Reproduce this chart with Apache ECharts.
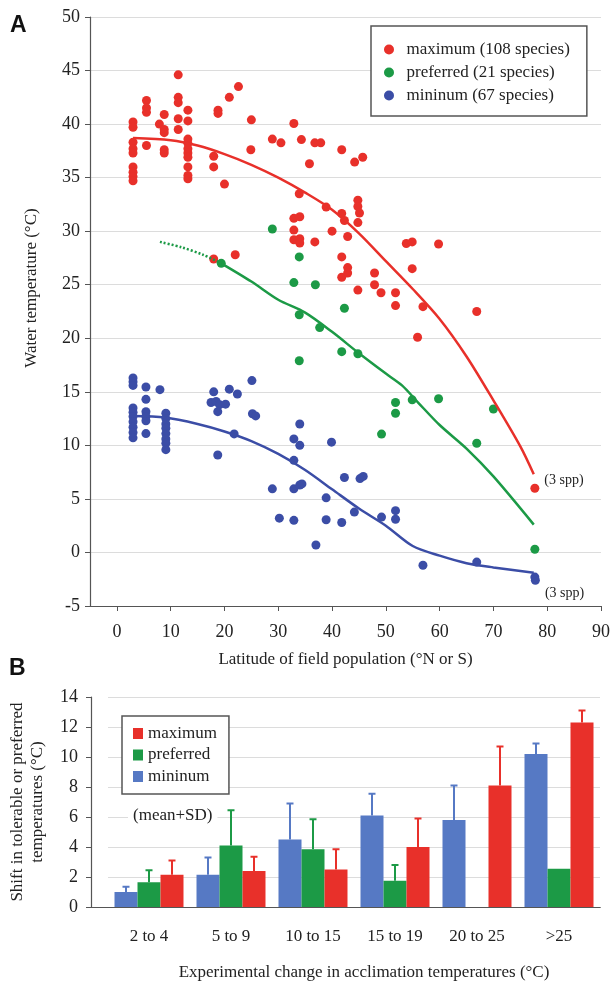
<!DOCTYPE html>
<html>
<head>
<meta charset="utf-8">
<script src="https://cdn.jsdelivr.net/npm/echarts@6/dist/echarts.min.js"></script>
<style>
  html, body { margin: 0; padding: 0; background: #fff; }
  #main { width: 613px; height: 984px; }
</style>
</head>
<body>
<div id="main"></div>
<script>
// ---- panel A: latitude vs water temperature ----
const latTicks = [0, 10, 20, 30, 40, 50, 60, 70, 80, 90]

const maxPoints = [
  [3, 40.2], [3, 39.7], [3, 38.3], [3, 37.7], [3, 37.3], [3, 36.0], [3, 35.5], [3, 35.1], [3, 34.7],
  [5.5, 42.2], [5.5, 41.5], [5.5, 41.1], [5.5, 38.0],
  [7.9, 40.0],
  [8.8, 40.9], [8.8, 39.5], [8.8, 39.2], [8.8, 37.6], [8.8, 37.3],
  [11.4, 44.6], [11.4, 42.5], [11.4, 42.0], [11.4, 40.5], [11.4, 39.5],
  [13.2, 41.3], [13.2, 40.3], [13.2, 38.6], [13.2, 38.2], [13.2, 37.7], [13.2, 37.3], [13.2, 36.9], [13.2, 36.0], [13.2, 35.2], [13.2, 34.9],
  [18.0, 37.0], [18.0, 36.0], [18.0, 27.4], [18.8, 41.3], [18.8, 41.0],
  [20.0, 34.4], [20.9, 42.5], [22.0, 27.8], [22.6, 43.5], [25.0, 40.4], [24.9, 37.6],
  [28.9, 38.6], [30.5, 38.25],
  [32.9, 40.05], [32.9, 31.2], [32.9, 30.1], [32.9, 29.2],
  [34.3, 38.55], [33.9, 33.5], [34.0, 31.35], [34.0, 29.3], [34.0, 28.9],
  [35.8, 36.3], [36.8, 38.25], [36.8, 29.0], [37.9, 38.25], [38.9, 32.25], [40.0, 30.0],
  [41.8, 37.6], [41.8, 31.65], [41.8, 27.6], [41.8, 25.7], [42.3, 31.0],
  [42.9, 29.5], [42.9, 26.6], [42.9, 26.1],
  [44.2, 36.45], [44.8, 32.9], [44.8, 32.3], [45.1, 31.7], [44.8, 30.8], [44.8, 24.5], [45.7, 36.9],
  [47.9, 26.1], [47.9, 25.0], [49.1, 24.25], [51.8, 24.25], [51.8, 23.05],
  [53.8, 28.85], [54.9, 29.0], [54.9, 26.5], [55.9, 20.1], [56.9, 22.95], [59.8, 28.8],
  [66.9, 22.5], [77.7, 6.0]
]

const prefPoints = [
  [28.9, 30.2], [19.4, 27.0], [33.9, 27.6], [32.9, 25.2], [36.9, 25.0], [33.9, 22.2],
  [42.3, 22.8], [37.7, 21.0], [41.8, 18.75], [44.8, 18.55], [33.9, 17.9],
  [51.8, 14.0], [51.8, 13.0], [54.9, 14.25], [59.8, 14.35], [70.0, 13.4],
  [49.2, 11.05], [66.9, 10.2], [77.7, 0.3]
]

const minPoints = [
  [3, 16.3], [3, 15.95], [3, 15.6], [3, 13.5], [3, 13.1], [3, 12.7], [3, 12.2], [3, 11.7], [3, 11.2], [3, 10.7],
  [5.4, 15.45], [5.4, 14.3], [5.4, 13.15], [5.4, 12.7], [5.4, 12.3], [5.4, 11.1],
  [8.0, 15.2],
  [9.1, 13.0], [9.1, 12.5], [9.1, 12.0], [9.1, 11.6], [9.1, 11.1], [9.1, 10.6], [9.1, 10.2], [9.1, 9.6],
  [18.0, 15.0], [17.5, 14.0], [18.45, 14.1], [19.1, 13.8], [20.2, 13.85], [18.75, 13.15], [18.75, 9.1],
  [20.9, 15.25], [22.4, 14.8], [25.1, 16.05], [25.2, 12.95], [25.8, 12.75], [21.8, 11.07],
  [28.9, 5.94], [30.2, 3.2], [32.9, 3.0], [32.9, 10.6], [32.9, 8.6], [32.9, 5.94],
  [34.0, 12.0], [34.0, 10.0], [34.0, 6.3], [34.4, 6.4], [37.0, 0.7],
  [39.9, 10.3], [42.3, 7.0], [45.2, 6.9], [45.8, 7.1], [38.9, 5.1], [38.9, 3.05],
  [41.8, 2.8], [44.15, 3.77], [49.2, 3.3], [51.8, 3.9], [51.8, 3.1],
  [56.9, -1.2], [66.9, -0.9], [77.7, -2.3], [77.8, -2.6]
]

const maxFit = [
  [3, 38.7], [10, 38.5], [15, 38.0], [20, 37.2], [25, 36.2], [30, 35.0], [35, 33.6], [40, 32.0],
  [45, 29.8], [50, 27.2], [55, 24.6], [60, 21.8], [65, 18.3], [70, 14.2], [75, 9.9], [77.5, 7.3]
]
const prefFitDotted = [[8, 29.0], [12, 28.5], [16, 27.8], [19.4, 27.0]]
const prefFit = [
  [19.4, 27.0], [25, 25.3], [30, 23.6], [35, 22.4], [40, 20.6], [45, 18.6], [50, 16.7],
  [53, 15.6], [56, 14.0], [60, 11.9], [65, 9.7], [70, 7.1], [77.5, 2.6]
]
const minFit = [
  [3, 12.75], [9, 12.6], [15, 12.0], [20, 11.3], [25, 10.4], [30, 9.2], [35, 7.7], [40, 5.9],
  [45, 4.1], [50, 2.5], [55, 0.6], [60, -0.3], [65, -1.0], [70, -1.4], [77.5, -1.9]
]

// ---- panel B: acclimation shift bars ----
const accCategories = ['2 to 4', '5 to 9', '10 to 15', '15 to 19', '20 to 25', '>25']
const barMin = [1.0, 2.15, 4.5, 6.1, 5.8, 10.2]
const barPref = [1.65, 4.1, 3.85, 1.75, null, 2.55]
const barMax = [2.15, 2.4, 2.5, 4.0, 8.1, 12.3]
const sdMin = [0.35, 1.15, 2.4, 1.45, 2.3, 0.7]
const sdPref = [0.8, 2.35, 2.0, 1.05, null, 0]
const sdMax = [0.95, 0.95, 1.35, 1.9, 2.6, 0.8]

const SERIF = 'Liberation Serif'
const RED = '#e8302a'
const GREEN = '#1c9a46'
const BLUE = '#3b4da6'
const BAR_BLUE = '#5679c4'
const AXIS = '#555'
const BAR_W = 23

function withNote(points, offset) {
  return points.map((p, i) => i === points.length - 1
    ? { value: p, label: { show: true, position: 'right', offset, formatter: '(3 spp)',
        fontFamily: SERIF, fontSize: 14, color: '#222' } }
    : p)
}

function errorSeries(name, means, sds, color, shift) {
  return {
    name,
    type: 'custom',
    xAxisIndex: 1,
    yAxisIndex: 1,
    z: 3,
    data: means.map((m, i) => [i, m, sds[i]]),
    encode: { x: 0, y: 1 },
    renderItem: (params, api) => {
      const mean = api.value(1)
      const sd = api.value(2)
      if (mean == null || isNaN(mean) || !sd) return
      const base = api.coord([api.value(0), mean])
      const top = api.coord([api.value(0), mean + sd])
      const x = base[0] + shift
      return {
        type: 'group',
        children: [
          { type: 'line', shape: { x1: x, y1: base[1], x2: x, y2: top[1] }, style: { stroke: color, lineWidth: 2 } },
          { type: 'line', shape: { x1: x - 3.5, y1: top[1], x2: x + 3.5, y2: top[1] }, style: { stroke: color, lineWidth: 2 } }
        ]
      }
    }
  }
}

const chart = echarts.init(document.getElementById('main'), null, { renderer: 'canvas' })

const option = {
  animation: false,
  textStyle: { fontFamily: SERIF },
  grid: [
    { left: 90, right: 9, top: 17, bottom: 378 },
    { left: 106, right: 13, top: 697, bottom: 77 },
    { left: 89, right: 13, top: 697, bottom: 77 }
  ],
  graphic: [
    { type: 'text', left: 10, top: 14, style: { text: 'A', font: 'bold 23px Liberation Sans', fill: '#111' } },
    { type: 'text', left: 9, top: 657, style: { text: 'B', font: 'bold 23px Liberation Sans', fill: '#111' } },
    {
      type: 'text', left: 128, top: 805, z: 10,
      style: {
        text: '(mean+SD)', font: '17px Liberation Serif', fill: '#222',
        backgroundColor: '#fff', padding: [2, 5, 2, 5]
      }
    }
  ],
  legend: [
    {
      data: ['maximum (108 species)', 'preferred (21 species)', 'mininum (67 species)'],
      orient: 'vertical',
      left: 371,
      top: 26,
      icon: 'circle',
      itemWidth: 25,
      itemHeight: 10,
      itemGap: 6,
      padding: [15, 17, 12, 13],
      borderColor: '#555',
      borderWidth: 1.5,
      backgroundColor: '#fff',
      selectedMode: false,
      textStyle: { fontFamily: SERIF, fontSize: 17, color: '#222', lineHeight: 17 }
    },
    {
      data: ['maximum', 'preferred', 'mininum'],
      orient: 'vertical',
      left: 122,
      top: 716,
      icon: 'rect',
      itemWidth: 10,
      itemHeight: 11,
      itemGap: 4.5,
      padding: [9, 12, 9, 11],
      borderColor: '#555',
      borderWidth: 1.5,
      backgroundColor: '#fff',
      selectedMode: false,
      textStyle: { fontFamily: SERIF, fontSize: 17, color: '#222', lineHeight: 17 }
    }
  ],
  xAxis: [
    {
      gridIndex: 0,
      type: 'value',
      min: -5,
      max: 90,
      name: 'Latitude of field population (°N or S)',
      nameLocation: 'middle',
      nameGap: 45,
      nameTextStyle: { fontFamily: SERIF, fontSize: 17, color: '#222' },
      axisLine: { onZero: false, lineStyle: { color: AXIS, width: 1.2 } },
      axisTick: { length: 5, customValues: latTicks, lineStyle: { color: AXIS } },
      axisLabel: { customValues: latTicks, margin: 17, fontFamily: SERIF, fontSize: 18, color: '#222' },
      splitLine: { show: false }
    },
    {
      gridIndex: 1,
      type: 'category',
      data: accCategories,
      name: 'Experimental change in acclimation temperatures (°C)',
      nameLocation: 'middle',
      nameGap: 57,
      nameTextStyle: { fontFamily: SERIF, fontSize: 17, color: '#222', padding: [0, 0, 0, 20] },
      axisLine: { onZero: false, lineStyle: { color: AXIS, width: 1.2 } },
      axisTick: { length: 5, lineStyle: { color: AXIS } },
      axisLabel: { margin: 21, fontFamily: SERIF, fontSize: 17, color: '#222' }
    },
    {
      gridIndex: 2,
      type: 'value',
      axisLine: { onZero: false, lineStyle: { color: AXIS, width: 1.2 } },
      axisTick: { show: false },
      axisLabel: { show: false },
      splitLine: { show: false }
    }
  ],
  yAxis: [
    {
      gridIndex: 0,
      type: 'value',
      min: -5,
      max: 50,
      interval: 5,
      name: 'Water temperature (°C)',
      nameLocation: 'middle',
      nameGap: 50,
      nameTextStyle: { fontFamily: SERIF, fontSize: 17, color: '#222', padding: [0, 0, 0, 47] },
      axisLine: { show: true, onZero: false, lineStyle: { color: AXIS, width: 1.2 } },
      axisTick: { show: true, length: 5, lineStyle: { color: AXIS } },
      axisLabel: { margin: 10, fontFamily: SERIF, fontSize: 18, color: '#222' },
      splitLine: { lineStyle: { color: '#dcdcdc', width: 1.2 } }
    },
    {
      gridIndex: 1,
      type: 'value',
      min: 0,
      max: 14,
      interval: 2,
      offset: 17,
      name: 'Shift in tolerable or preferred\ntemperatures (°C)',
      nameLocation: 'middle',
      nameGap: 43,
      nameTextStyle: { fontFamily: SERIF, fontSize: 17, color: '#222', lineHeight: 20 },
      axisLine: { show: true, onZero: false, lineStyle: { color: AXIS, width: 1.2 } },
      axisTick: { show: true, length: 5, lineStyle: { color: AXIS } },
      axisLabel: { margin: 13, fontFamily: SERIF, fontSize: 18, color: '#222' },
      splitLine: { lineStyle: { color: '#dcdcdc', width: 1.2 } }
    },
    { gridIndex: 2, type: 'value', show: false }
  ],
  series: [
    {
      name: 'maximum (108 species)', type: 'scatter', symbolSize: 9, z: 2,
      itemStyle: { color: RED, opacity: 1 }, data: withNote(maxPoints, [0, -8])
    },
    {
      name: 'preferred (21 species)', type: 'scatter', symbolSize: 9, z: 2,
      itemStyle: { color: GREEN, opacity: 1 }, data: prefPoints
    },
    {
      name: 'mininum (67 species)', type: 'scatter', symbolSize: 9, z: 2,
      itemStyle: { color: BLUE, opacity: 1 }, data: withNote(minPoints, [0, 13])
    },
    {
      name: 'max fit', type: 'line', smooth: 0.3, showSymbol: false, z: 3, silent: true,
      lineStyle: { color: RED, width: 2.5 }, data: maxFit
    },
    {
      name: 'pref fit', type: 'line', smooth: 0.3, showSymbol: false, z: 3, silent: true,
      lineStyle: { color: GREEN, width: 2.5 }, data: prefFit
    },
    {
      name: 'pref fit extrapolated', type: 'line', smooth: 0.3, showSymbol: false, z: 3, silent: true,
      lineStyle: { color: GREEN, width: 2.5, type: [2, 2] }, data: prefFitDotted
    },
    {
      name: 'min fit', type: 'line', smooth: 0.3, showSymbol: false, z: 3, silent: true,
      lineStyle: { color: BLUE, width: 2.5 }, data: minFit
    },
    {
      name: 'mininum', type: 'bar', xAxisIndex: 1, yAxisIndex: 1,
      barWidth: BAR_W, barGap: '0%', itemStyle: { color: BAR_BLUE }, data: barMin
    },
    {
      name: 'preferred', type: 'bar', xAxisIndex: 1, yAxisIndex: 1,
      barWidth: BAR_W, barGap: '0%', itemStyle: { color: GREEN }, data: barPref
    },
    {
      name: 'maximum', type: 'bar', xAxisIndex: 1, yAxisIndex: 1,
      barWidth: BAR_W, barGap: '0%', itemStyle: { color: RED }, data: barMax
    },
    errorSeries('sd min', barMin, sdMin, BAR_BLUE, -BAR_W),
    errorSeries('sd pref', barPref, sdPref, GREEN, 0),
    errorSeries('sd max', barMax, sdMax, RED, BAR_W)
  ]
}

chart.setOption(option)
</script>
</body>
</html>
